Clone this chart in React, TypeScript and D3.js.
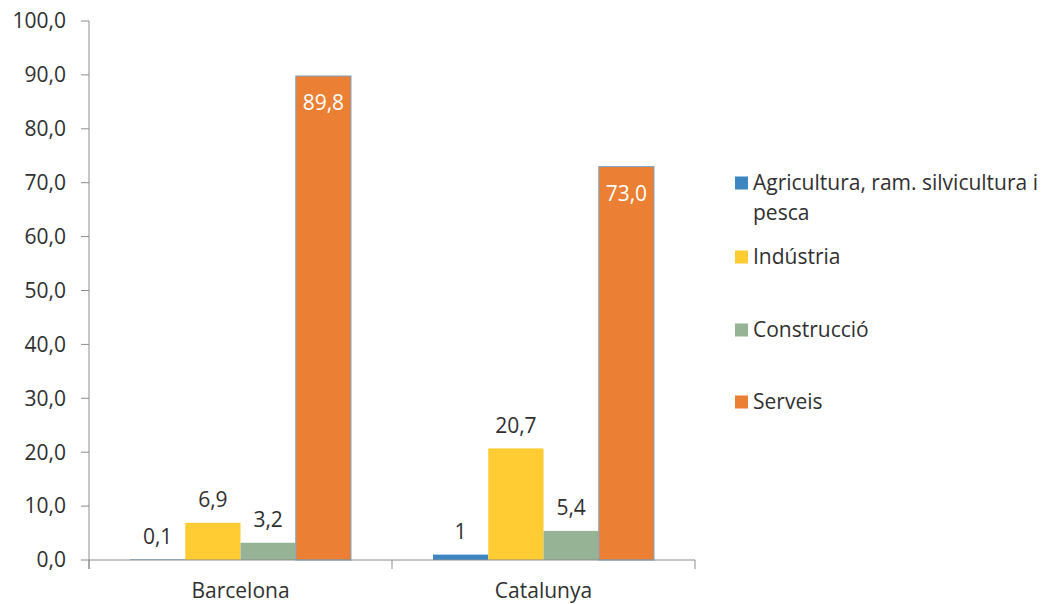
import React from "react";
import * as d3 from "d3";

const categories = ["Barcelona", "Catalunya"];
const seriesNames = ["Agricultura, ram. silvicultura i pesca", "Indústria", "Construcció", "Serveis"];
const legendLines = [["Agricultura, ram. silvicultura i", "pesca"], ["Indústria"], ["Construcció"], ["Serveis"]];
const agricultura = [0.1, 1.0];
const industria = [6.9, 20.7];
const construccio = [3.2, 5.4];
const serveis = [89.8, 73.0];
const agriculturaLabels = ["0,1", "1"];
const industriaLabels = ["6,9", "20,7"];
const construccioLabels = ["3,2", "5,4"];
const serveisLabels = ["89,8", "73,0"];
const yTicks = [0, 10, 20, 30, 40, 50, 60, 70, 80, 90, 100];

const colors = ["#3D86C2", "#FFCC33", "#97B396", "#EB7F33"];

export default function App() {
  const W = 1051, H = 604;
  const left = 89, right = 695, top = 21, bottom = 560;
  const font = "'Open Sans', sans-serif";
  const fs = 21;
  const textColor = "#303030";
  const axisColor = "#8C8C8C";

  const y = d3.scaleLinear().domain([0, 100]).range([bottom, top]);
  const x0 = d3.scaleBand().domain(categories).range([left, right]).paddingInner(0).paddingOuter(0);
  const inner = d3.scaleBand().domain(seriesNames).range([41, x0.bandwidth() - 41]);

  const values = [agricultura, industria, construccio, serveis];
  const labels = [agriculturaLabels, industriaLabels, construccioLabels, serveisLabels];

  const legendY = [183, 257, 330, 402];

  return (
    <svg width={W} height={H} style={{ position: "absolute", left: 0, top: 0, background: "#fff" }} fontFamily={font}>
      <line x1={left} x2={left} y1={top} y2={bottom + 9} stroke={axisColor} strokeWidth={1} />
      {yTicks.map((t) => (
        <g key={t}>
          <line x1={left - 8} x2={left} y1={y(t)} y2={y(t)} stroke={axisColor} />
          <text x={left - 23} y={y(t)} dy="0.35em" textAnchor="end" fontSize={fs} fill={textColor}>
            {d3.format(".1f")(t).replace(".", ",")}
          </text>
        </g>
      ))}
      {categories.map((c, ci) => (
        <g key={c} transform={`translate(${x0(c)},0)`}>
          {seriesNames.map((s, si) => {
            const v = values[si][ci];
            const bx = inner(s)!;
            const bw = inner.bandwidth();
            const isServ = si === 3;
            return (
              <g key={s}>
                <rect x={bx} y={y(v)} width={bw} height={bottom - y(v)} fill={colors[si]}
                  stroke={isServ ? "#7FA6C9" : "none"} strokeWidth={isServ ? 1 : 0} />
                {isServ ? (
                  <text x={bx + bw / 2} y={y(v) + 27} dy="0.35em" textAnchor="middle" fontSize={fs} fill="#fff">
                    {labels[si][ci]}
                  </text>
                ) : (
                  <text x={bx + bw / 2} y={y(v) - 23} dy="0.35em" textAnchor="middle" fontSize={fs} fill={textColor}>
                    {labels[si][ci]}
                  </text>
                )}
              </g>
            );
          })}
        </g>
      ))}
      <line x1={left} x2={right} y1={bottom} y2={bottom} stroke={axisColor} />
      {[left, ...categories.map((c) => x0(c)! + x0.bandwidth())].map((tx, i) => (
        <line key={i} x1={tx} x2={tx} y1={bottom} y2={bottom + 9} stroke={axisColor} />
      ))}
      {categories.map((c) => (
        <text key={c} x={x0(c)! + x0.bandwidth() / 2} y={591} dy="0.35em" textAnchor="middle" fontSize={fs} fill={textColor}>
          {c}
        </text>
      ))}
      {seriesNames.map((s, si) => (
        <g key={s}>
          <rect x={735} y={legendY[si] - 6.5} width={13} height={13} fill={colors[si]} />
          {legendLines[si].map((ln, li) => (
            <text key={li} x={753} y={legendY[si] + li * 30} dy="0.35em" fontSize={fs} fill={textColor}>
              {ln}
            </text>
          ))}
        </g>
      ))}
    </svg>
  );
}
